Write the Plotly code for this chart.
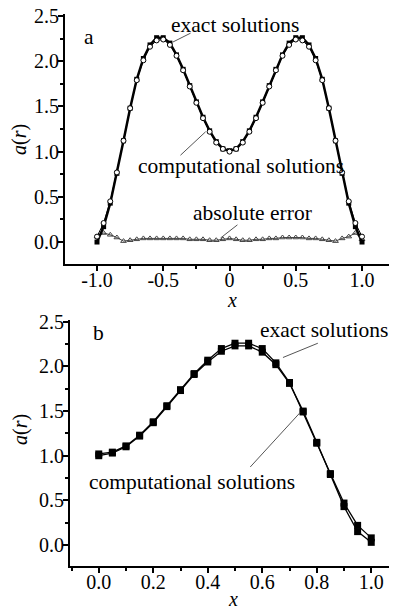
import plotly.graph_objects as go

# ---------- data ----------
x_a = [-1.00, -0.95, -0.90, -0.85, -0.80, -0.75, -0.70, -0.65, -0.60, -0.55, -0.50,
       -0.45, -0.40, -0.35, -0.30, -0.25, -0.20, -0.15, -0.10, -0.05, 0.00,
       0.05, 0.10, 0.15, 0.20, 0.25, 0.30, 0.35, 0.40, 0.45, 0.50,
       0.55, 0.60, 0.65, 0.70, 0.75, 0.80, 0.85, 0.90, 0.95, 1.00]
exact_a = [0.00, 0.17, 0.43, 0.76, 1.12, 1.48, 1.80, 2.03, 2.18, 2.26, 2.26,
           2.20, 2.07, 1.91, 1.73, 1.55, 1.38, 1.23, 1.11, 1.03, 1.01,
           1.03, 1.11, 1.23, 1.38, 1.55, 1.73, 1.91, 2.07, 2.20, 2.26,
           2.26, 2.18, 2.03, 1.80, 1.48, 1.12, 0.76, 0.43, 0.17, 0.00]
comp_a = [0.06, 0.21, 0.45, 0.77, 1.12, 1.48, 1.79, 2.01, 2.16, 2.23, 2.24,
          2.18, 2.06, 1.90, 1.72, 1.54, 1.37, 1.22, 1.10, 1.03, 1.00,
          1.03, 1.10, 1.22, 1.37, 1.54, 1.72, 1.90, 2.06, 2.18, 2.24,
          2.23, 2.16, 2.01, 1.79, 1.48, 1.12, 0.77, 0.45, 0.21, 0.06]
err_a = [0.06, 0.10, 0.08, 0.05, 0.01, 0.02, 0.03, 0.04, 0.04, 0.04, 0.04,
         0.04, 0.04, 0.04, 0.03, 0.03, 0.03, 0.02, 0.02, 0.03, 0.04,
         0.03, 0.02, 0.02, 0.03, 0.03, 0.04, 0.04, 0.05, 0.05, 0.05,
         0.05, 0.04, 0.04, 0.03, 0.02, 0.01, 0.04, 0.06, 0.10, 0.03]

x_b = [0.00, 0.05, 0.10, 0.15, 0.20, 0.25, 0.30, 0.35, 0.40, 0.45, 0.50,
       0.55, 0.60, 0.65, 0.70, 0.75, 0.80, 0.85, 0.90, 0.95, 1.00]
exact_b = [1.00, 1.03, 1.10, 1.22, 1.37, 1.55, 1.73, 1.91, 2.05, 2.17, 2.23,
           2.23, 2.16, 2.02, 1.81, 1.50, 1.15, 0.79, 0.43, 0.15, 0.03]
comp_b = [1.02, 1.04, 1.11, 1.23, 1.38, 1.56, 1.74, 1.92, 2.07, 2.20, 2.26,
          2.26, 2.20, 2.04, 1.82, 1.49, 1.14, 0.80, 0.47, 0.22, 0.08]

ticks_a_x = [-1.0, -0.5, 0.0, 0.5, 1.0]
ticklabels_a_x = ["-1.0", "-0.5", "0", "0.5", "1.0"]
ticks_y = [0.0, 0.5, 1.0, 1.5, 2.0, 2.5]
ticklabels_y = ["0.0", "0.5", "1.0", "1.5", "2.0", "2.5"]
ticks_b_x = [0.0, 0.2, 0.4, 0.6, 0.8, 1.0]
ticklabels_b_x = ["0.0", "0.2", "0.4", "0.6", "0.8", "1.0"]

FONT = "Times New Roman, Liberation Serif, DejaVu Serif, serif"
W, H = 397, 610
OX, OY = 8, 8  # page body margin offset


def fx(px):
    return (px - OX) / W


def fy(py):
    return (H - (py - OY)) / H


fig = go.Figure()

# ---- panel a ----
fig.add_trace(go.Scatter(x=x_a, y=err_a, mode="lines+markers", xaxis="x", yaxis="y",
                         line=dict(color="#444", width=1),
                         marker=dict(symbol="triangle-up-open", size=5, color="#444",
                                     line=dict(width=1))))
fig.add_trace(go.Scatter(x=x_a, y=exact_a, mode="lines+markers", xaxis="x", yaxis="y",
                         line=dict(color="black", width=2.5),
                         marker=dict(symbol="square", size=5, color="black")))
fig.add_trace(go.Scatter(x=x_a, y=comp_a, mode="lines+markers", xaxis="x", yaxis="y",
                         line=dict(color="black", width=1),
                         marker=dict(symbol="circle", size=5, color="white",
                                     line=dict(color="black", width=1))))

# ---- panel b ----
fig.add_trace(go.Scatter(x=x_b, y=exact_b, mode="lines+markers", xaxis="x2", yaxis="y2",
                         line=dict(color="black", width=1.3),
                         marker=dict(symbol="square", size=7, color="black")))
fig.add_trace(go.Scatter(x=x_b, y=comp_b, mode="lines+markers", xaxis="x2", yaxis="y2",
                         line=dict(color="black", width=1.3),
                         marker=dict(symbol="square", size=7, color="black")))

axis_common = dict(showline=True, linecolor="black", linewidth=2, ticks="outside",
                   ticklen=5, tickwidth=1.5, tickcolor="black", showgrid=False,
                   zeroline=False, mirror=False, automargin=False,
                   ticklabeloverflow="allow",
                   tickfont=dict(family=FONT, size=20, color="black"))
xstand = -8
ystand = -5

fig.update_layout(
    width=W, height=H, showlegend=False,
    paper_bgcolor="white", plot_bgcolor="white",
    margin=dict(l=0, r=0, t=0, b=0, autoexpand=False),
    xaxis=dict(axis_common, domain=[fx(65), fx(395)], range=[-1.2415, 1.249],
               tickvals=ticks_a_x, ticktext=ticklabels_a_x, anchor="y", ticklabelstandoff=xstand,
               minor=dict(dtick=0.25, tick0=0, ticklen=3, ticks="outside", tickcolor="black")),
    yaxis=dict(axis_common, domain=[fy(264), fy(14)], range=[-0.243, 2.522],
               tickvals=ticks_y, ticktext=ticklabels_y, anchor="x", ticklabelstandoff=ystand,
               minor=dict(dtick=0.25, tick0=0, ticklen=3, ticks="outside", tickcolor="black")),
    xaxis2=dict(axis_common, domain=[fx(70), fx(397)], range=[-0.1055, 1.0945],
                tickvals=ticks_b_x, ticktext=ticklabels_b_x, anchor="y2", ticklabelstandoff=xstand,
                minor=dict(dtick=0.1, tick0=0, ticklen=3, ticks="outside", tickcolor="black")),
    yaxis2=dict(axis_common, domain=[fy(566), fy(320)], range=[-0.235, 2.52],
                tickvals=ticks_y, ticktext=ticklabels_y, anchor="x2", ticklabelstandoff=ystand,
                minor=dict(dtick=0.25, tick0=0, ticklen=3, ticks="outside", tickcolor="black")),
)

tf = dict(family=FONT, size=21.5, color="black")
ann = []
# panel a texts
ann.append(dict(x=-1.057, y=2.27, xref="x", yref="y", text="a", showarrow=False, font=tf))
ann.append(dict(x=0.038, y=2.40, xref="x", yref="y", text="exact solutions", showarrow=False, font=tf))
ann.append(dict(x=0.083, y=0.84, xref="x", yref="y", text="computational solutions", showarrow=False, font=tf))
ann.append(dict(x=0.174, y=0.32, xref="x", yref="y", text="absolute error", showarrow=False, font=tf))
# panel b texts
ann.append(dict(x=0.0, y=2.38, xref="x2", yref="y2", text="b", showarrow=False, font=tf))
ann.append(dict(x=0.825, y=2.41, xref="x2", yref="y2", text="exact solutions", showarrow=False, font=tf))
ann.append(dict(x=0.344, y=0.706, xref="x2", yref="y2", text="computational solutions", showarrow=False, font=tf))
# axis titles
tfa = dict(family=FONT, size=20, color="black")
ann.append(dict(x=fx(232), y=fy(300), xref="paper", yref="paper", text="<i>x</i>",
                xanchor="center", yanchor="middle", showarrow=False, font=tfa))
ann.append(dict(x=fx(233), y=fy(599), xref="paper", yref="paper", text="<i>x</i>",
                xanchor="center", yanchor="middle", showarrow=False, font=tfa))
ann.append(dict(x=fx(20), y=fy(140), xref="paper", yref="paper", text="<i>a</i>(<i>r</i>)",
                xanchor="center", yanchor="middle", textangle=-90, showarrow=False, font=tfa))
ann.append(dict(x=fx(20), y=fy(430), xref="paper", yref="paper", text="<i>a</i>(<i>r</i>)",
                xanchor="center", yanchor="middle", textangle=-90, showarrow=False, font=tfa))
fig.update_layout(annotations=ann)

# pointer lines
lc = dict(color="#555", width=1)
shapes = [
    dict(type="line", xref="x", yref="y", x0=-0.294, y0=2.31, x1=-0.43, y1=2.21, line=lc),
    dict(type="line", xref="x", yref="y", x0=-0.37, y0=0.96, x1=-0.18, y1=1.22, line=lc),
    dict(type="line", xref="x", yref="y", x0=0.06, y0=0.19, x1=-0.068, y1=0.044, line=lc),
    dict(type="line", xref="x2", yref="y2", x0=0.804, y0=2.26, x1=0.676, y1=2.10, line=lc),
    dict(type="line", xref="x2", yref="y2", x0=0.556, y0=0.874, x1=0.738, y1=1.48, line=lc),
]
fig.update_layout(shapes=shapes)

fig.write_html("out.html")
